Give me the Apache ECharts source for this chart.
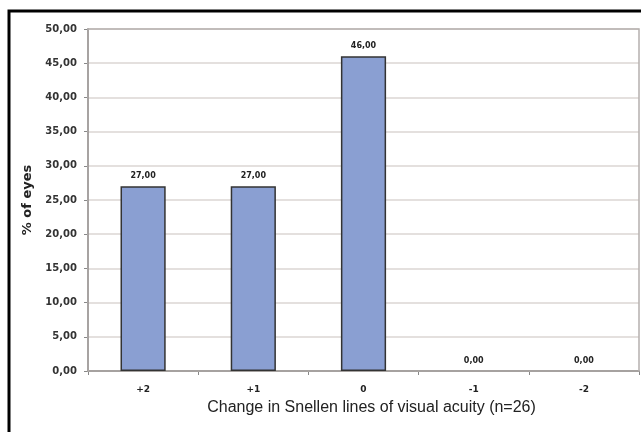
<!DOCTYPE html>
<html>
<head>
<meta charset="utf-8">
<style>
  html, body { margin: 0; padding: 0; background: #fff; }
  #chart { width: 641px; height: 432px; }
</style>
<script src="https://cdn.jsdelivr.net/npm/echarts@6/dist/echarts.min.js"></script>
</head>
<body>
<div id="chart"></div>
<script>
// Change in Snellen lines of visual acuity, share of eyes per category
var categories = ['+2', '+1', '0', '-1', '-2'];
var percentEyes = [27.00, 27.00, 46.00, 0.00, 0.00];

function fmt(v) {
  return v.toFixed(2).replace('.', ',');
}

// zero-height bars get no outline so only the label shows
var barData = percentEyes.map(function (v) {
  return v === 0 ? { value: v, itemStyle: { borderWidth: 0 } } : v;
});

var chart = echarts.init(document.getElementById('chart'), null, { renderer: 'canvas' });

chart.setOption({
  animation: false,
  backgroundColor: '#ffffff',
  textStyle: { fontFamily: 'DejaVu Sans, Verdana, sans-serif' },
  graphic: [
    {
      type: 'rect',
      shape: { x: 9, y: 11, width: 700, height: 500 },
      style: { fill: 'none', stroke: '#000', lineWidth: 3 },
      silent: true,
      z: 100
    },
    {
      type: 'rect',
      shape: { x: 88, y: 29, width: 551, height: 342 },
      style: { fill: 'none', stroke: '#b5b0ae', lineWidth: 1.5 },
      silent: true,
      z: 1
    }
  ],
  grid: { left: 88, top: 29, right: 2, bottom: 61, containLabel: false },
  xAxis: {
    type: 'category',
    data: categories,
    name: 'Change in Snellen lines of visual acuity (n=26)',
    nameLocation: 'middle',
    nameGap: 29,
    nameTextStyle: {
      fontSize: 16,
      color: '#222',
      fontFamily: 'Liberation Sans, Arial, sans-serif',
      padding: [0, 0, 0, 16]
    },
    axisLine: { lineStyle: { color: '#555', width: 1.5 } },
    axisTick: { show: true, alignWithLabel: false, length: 4, lineStyle: { color: '#888' } },
    axisLabel: { fontSize: 9, fontWeight: 'bold', color: '#222', margin: 14 },
    splitLine: { show: false }
  },
  yAxis: {
    type: 'value',
    min: 0,
    max: 50,
    interval: 5,
    name: '% of eyes',
    nameLocation: 'middle',
    nameGap: 50,
    nameRotate: 90,
    nameTextStyle: { fontSize: 13, fontWeight: 'bold', color: '#222' },
    axisLine: { show: true, lineStyle: { color: '#555', width: 1.5 } },
    axisTick: { show: true, length: 4, lineStyle: { color: '#888' } },
    axisLabel: { fontSize: 10, fontWeight: 'bold', color: '#333', margin: 11, formatter: fmt },
    splitLine: { show: true, lineStyle: { color: '#e4e0de', width: 2 } }
  },
  series: [
    {
      type: 'bar',
      data: barData,
      barWidth: '41%',
      itemStyle: { color: '#8a9fd2', borderColor: '#333', borderWidth: 1.5 },
      label: {
        show: true,
        position: 'top',
        distance: 6,
        fontSize: 8,
        fontWeight: 'bold',
        color: '#222',
        formatter: function (p) { return fmt(p.value); }
      }
    }
  ]
});
</script>
</body>
</html>
